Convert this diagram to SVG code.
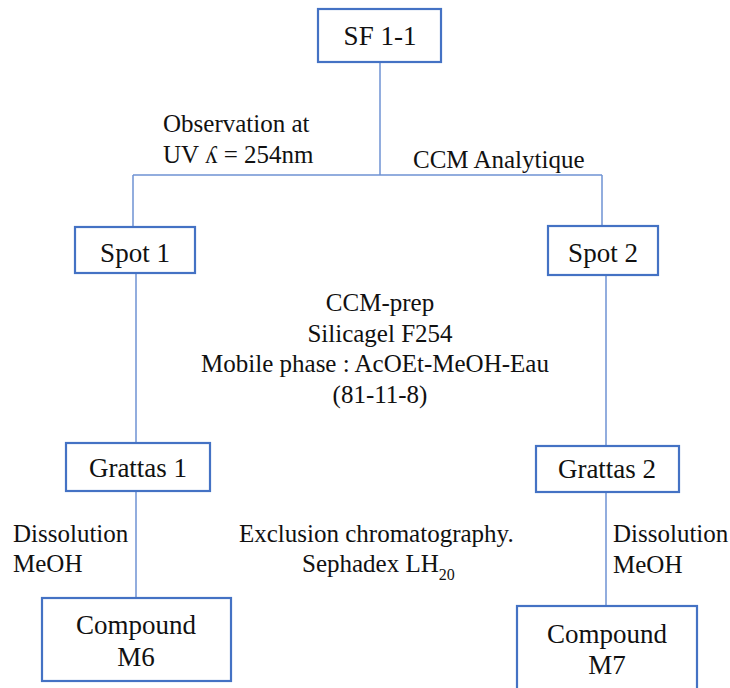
<svg xmlns="http://www.w3.org/2000/svg" width="730" height="688" viewBox="0 0 730 688">
<style>
.box{fill:#fff;stroke:#4472C4;stroke-width:2.2}
.ln{fill:none;stroke:#6f93d4;stroke-width:1.5}
text{font-family:"Liberation Serif","Times New Roman",serif;font-size:25px;fill:#111}
.c{text-anchor:middle}
.n{font-size:27px}
</style>
<rect width="730" height="688" fill="#fff"/>
<g id="connectors">
<path class="ln" d="M380 62V175M133 175H602M133 175V228M602 175V226M136 274V443M606 275V446M136 491V598M606 492V606"/>
</g>
<g id="sf11"><rect class="box" x="318" y="9" width="123" height="53"/><text class="c n" x="380" y="45">SF 1-1</text></g>
<g id="spot1"><rect class="box" x="75" y="227" width="120" height="46"/><text class="c n" x="135" y="262">Spot 1</text></g>
<g id="spot2"><rect class="box" x="548" y="226" width="110" height="49"/><text class="c n" x="603" y="262">Spot 2</text></g>
<g id="grattas1"><rect class="box" x="66" y="443" width="144" height="48"/><text class="c n" x="138" y="477">Grattas 1</text></g>
<g id="grattas2"><rect class="box" x="536" y="446" width="143" height="46"/><text class="c n" x="607" y="478">Grattas 2</text></g>
<g id="m6"><rect class="box" x="42" y="598" width="189" height="83"/><text class="c n" x="136" y="634">Compound</text><text class="c n" x="136" y="666">M6</text></g>
<g id="m7"><rect class="box" x="517" y="606" width="180" height="90"/><text class="c n" x="607" y="643">Compound</text><text class="c n" x="607" y="674">M7</text></g>
<g id="labels">
<text x="163" y="132">Observation at</text>
<text x="163" y="163">UV ʎ = 254nm</text>
<text x="413" y="168">CCM Analytique</text>
<text class="c" x="380" y="311">CCM-prep</text>
<text class="c" x="380" y="342">Silicagel F254</text>
<text class="c" x="375" y="372">Mobile phase : AcOEt-MeOH-Eau</text>
<text class="c" x="380" y="403">(81-11-8)</text>
<text x="13" y="542">Dissolution</text>
<text x="13" y="572">MeOH</text>
<text x="613" y="542">Dissolution</text>
<text x="613" y="573">MeOH</text>
<text x="239" y="542">Exclusion chromatography.</text>
<text x="302" y="572">Sephadex LH<tspan font-size="16" dy="8">20</tspan></text>
</g>
</svg>
